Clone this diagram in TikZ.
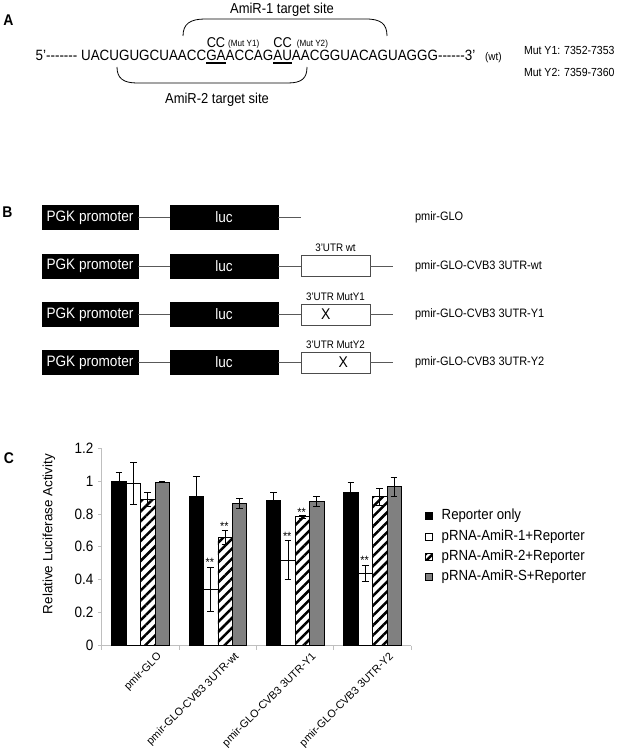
\documentclass[tikz,border=0pt]{standalone}
\usepackage{fontspec}
\setmainfont{Liberation Sans}[Ligatures=TeXOff]
\newfontfamily\tallfont{Liberation Sans}[Ligatures=TeXOff, FakeStretch=0.9]
\usetikzlibrary{patterns.meta}
\newcommand{\fsz}[1]{\tallfont\fontsize{#1}{#1}\selectfont}
\newcommand{\fsr}[1]{\fontsize{#1}{#1}\selectfont}
\begin{document}
\begin{tikzpicture}[x=1pt,y=-1pt,
  every node/.style={inner sep=0pt, outer sep=0pt},
  panel/.style={font=\fsz{15.5}\bfseries},
  seq/.style={anchor=base west, font=\fsz{14.9}},
  blk/.style={draw=black, fill=black, text=white, minimum height=24pt, font=\fsz{15.1}},
  utr/.style={draw=black!70, fill=white, minimum width=69pt, minimum height=21pt, line width=0.9pt},
  link/.style={draw=black!65, line width=0.9pt},
  lbl/.style={anchor=west, font=\fsz{12.2}},
  utrlbl/.style={anchor=south, font=\fsz{10.9}},
  axisline/.style={draw=black!25, line width=0.8pt},
  barblack/.style={draw=black, fill=black, line width=0.6pt},
  barwhite/.style={draw=black, fill=white, line width=0.6pt},
  barhatch/.style={draw=black, line width=0.6pt, fill=white, postaction={pattern={Lines[angle=45,distance=7pt,line width=2.5pt]}}},
  bargrey/.style={draw=black, line width=0.6pt, fill=black!50},
  errbar/.style={draw=black, line width=0.7pt},
  star/.style={anchor=south, font=\fsz{12}},
  leg/.style={anchor=west, font=\fsz{14.7}}
]
\useasboundingbox (0,0) rectangle (617,751);

% ---------------- Panel A ----------------
\node[panel] (pA) at (8.5,20) {A};
\node[anchor=center, font=\fsz{14.4}] (am1) at (282,10) {AmiR-1 target site};
\draw[line width=0.8pt] (183,36) .. controls (183,24) and (190,19) .. (205,19) -- (366,19) .. controls (381,19) and (387,24) .. (387,36);

\node[seq] (s1) at (35.7,61) {5’------- UACUGUGCUAACC};
\node[seq] (ga) at (s1.base east) {GA};
\node[seq] (s2) at (ga.base east) {ACCAG};
\node[seq] (au) at (s2.base east) {AU};
\node[seq] (s3) at (au.base east) {AACGGUACAGUAGGG------3’};
\draw[line width=1.5pt] ([yshift=-2.2pt]ga.base west) -- ([yshift=-2.2pt]ga.base east);
\draw[line width=1.5pt] ([yshift=-2.2pt]au.base west) -- ([yshift=-2.2pt]au.base east);

\node[anchor=base, font=\fsz{14.2}] (cc1) at ([yshift=13pt]ga.base) {CC};
\node[anchor=base west, font=\fsz{9}] (my1) at ([xshift=3pt,yshift=1.5pt]cc1.base east) {(Mut Y1)};
\node[anchor=base, font=\fsz{14.2}] (cc2) at ([yshift=13pt]au.base) {CC};
\node[anchor=base west, font=\fsz{9}] (my2) at ([xshift=5pt,yshift=1.5pt]cc2.base east) {(Mut Y2)};

\node[anchor=west, font=\fsz{11.1}] (wt) at (485,57.5) {(wt)};
\node[anchor=west, font=\fsz{11.7}] (mut1) at (524,50) {Mut Y1: 7352-7353};
\node[anchor=west, font=\fsz{11.7}] (mut2) at (524,72) {Mut Y2: 7359-7360};

\draw[line width=0.8pt] (117,67) .. controls (117,78) and (123,83) .. (137,83) -- (288,83) .. controls (302,83) and (307,78) .. (307,67);
\node[anchor=center, font=\fsz{14.4}] (am2) at (217,100) {AmiR-2 target site};

% ---------------- Panel B ----------------
\node[panel] (pB) at (7.5,212) {B};
\foreach \r/\yy in {1/217.5,2/266,3/314.5,4/362.5}{
  \node[blk, minimum width=96pt] (pgk\r) at (90,\yy) {PGK promoter};
  \node[blk, minimum width=108pt] (luc\r) at (224,\yy) {luc};
  \draw[link] (pgk\r) -- (luc\r);
}
\coordinate (end1) at (301,217.5);
\draw[link] (luc1.east) -- (end1);
\node[lbl] (n1) at (415,217.5) {pmir-GLO};

\node[utr] (u2) at (335.5,266) {};
\node[utr] (u3) at (335.5,314.5) {};
\node[utr] (u4) at (335.5,362.5) {};
\foreach \r in {2,3,4}{
  \draw[link] (luc\r) -- (u\r);
  \coordinate (e\r) at (393,0 |- u\r.east);
  \draw[link] (u\r.east) -- (e\r);
}
\node[utrlbl] (ul2) at ([yshift=3.5pt]u2.north) {3’UTR wt};
\node[utrlbl] (ul3) at ([yshift=3.5pt]u3.north) {3’UTR MutY1};
\node[utrlbl] (ul4) at ([yshift=3.5pt]u4.north) {3’UTR MutY2};
\node[font=\fsz{15.5}] (x3) at (325.7,314.5) {X};
\node[font=\fsz{15.5}] (x4) at (343.3,362.5) {X};
\node[lbl] (n2) at (415,266) {pmir-GLO-CVB3 3UTR-wt};
\node[lbl] (n3) at (415,314.5) {pmir-GLO-CVB3 3UTR-Y1};
\node[lbl] (n4) at (415,362.5) {pmir-GLO-CVB3 3UTR-Y2};

% ---------------- Panel C ----------------
\node[panel] (pC) at (9,458) {C};
\node[rotate=90, font=\fsr{13.4}] (ytitle) at (49,534) {Relative Luciferase Activity};

\begin{scope}[shift={(0,645.5)}, y=164.5pt]
  \draw[axisline] (101.7,0) -- (101.7,1.2);
  \foreach \v/\t [count=\i] in {0/0,0.2/0.2,0.4/0.4,0.6/0.6,0.8/0.8,1/1,1.2/1.2}{
    \draw[axisline] (101.7,\v) -- ++(-4pt,0pt);
    \node[anchor=east, font=\fsz{15}] (yt\i) at (93.3,\v) {\t};
  }
  \draw[axisline] (101.7,0) -- (411,0);
  \foreach \k in {0,...,4}{
    \draw[axisline] ({101.7+77.3*\k},0) -- ++(0pt,-4pt);
  }
  \foreach \c/\v/\lo/\hi in {0/1.00/0.95/1.05, 1/0.91/0.79/1.03, 2/0.883/0.833/0.932, 3/0.93/0.87/0.99}{
    \pgfmathsetmacro\L{111.7+77.3*\c}
    \path[barblack] (\L,0) rectangle ({\L+14.4},\v);
    \draw[errbar] ({\L+7.2},\lo) -- ({\L+7.2},\hi) ({\L+3.9},\hi) -- ({\L+10.5},\hi);
  }
  \foreach \c/\v/\lo/\hi in {0/0.984/0.857/1.111, 1/0.343/0.208/0.478, 2/0.52/0.40/0.64, 3/0.44/0.39/0.49}{
    \pgfmathsetmacro\L{111.7+77.3*\c+14.4}
    \path[barwhite] (\L,0) rectangle ({\L+14.4},\v);
    \draw[errbar] ({\L+7.2},\lo) -- ({\L+7.2},\hi) ({\L+3.9},\hi) -- ({\L+10.5},\hi) ({\L+3.9},\lo) -- ({\L+10.5},\lo);
  }
  \foreach \c/\v/\lo/\hi in {0/0.887/0.843/0.934, 1/0.655/0.612/0.70, 2/0.783/0.776/0.79, 3/0.904/0.85/0.958}{
    \pgfmathsetmacro\L{111.7+77.3*\c+28.8}
    \path[barhatch] (\L,0) rectangle ({\L+14.4},\v);
    \draw[errbar] ({\L+7.2},\lo) -- ({\L+7.2},\hi) ({\L+3.9},\hi) -- ({\L+10.5},\hi) ({\L+3.9},\lo) -- ({\L+10.5},\lo);
  }
  \foreach \c/\v/\lo/\hi in {0/0.995/0.99/1.0, 1/0.863/0.832/0.894, 2/0.875/0.843/0.907, 3/0.967/0.908/1.025}{
    \pgfmathsetmacro\L{111.7+77.3*\c+43.2}
    \path[bargrey] (\L,0) rectangle ({\L+14.4},\v);
    \draw[errbar] ({\L+7.2},\lo) -- ({\L+7.2},\hi) ({\L+3.9},\hi) -- ({\L+10.5},\hi) ({\L+3.9},\lo) -- ({\L+10.5},\lo);
  }
  \node[star] (st1) at ({111.7+77.3*1+14.4+6.5},0.478) {**};
  \node[star] (st2) at ({111.7+77.3*1+28.8+6.5},0.70) {**};
  \node[star] (st3) at ({111.7+77.3*2+14.4+6.5},0.64) {**};
  \node[star] (st4) at ({111.7+77.3*2+28.8+6.5},0.785) {**};
  \node[star] (st5) at ({111.7+77.3*3+14.4+6.5},0.49) {**};
\end{scope}

% category labels
\foreach \c/\t in {0/pmir-GLO,1/pmir-GLO-CVB3 3UTR-wt,2/pmir-GLO-CVB3 3UTR-Y1,3/pmir-GLO-CVB3 3UTR-Y2}{
  \node[rotate=45, anchor=north east, font=\fsr{10.8}] (cl\c) at ({140.35+77.3*\c+16},651.5) {\t};
}

% legend
\path[barblack] (425,512.5) rectangle (432,519.5);
\path[barwhite] (425,533.2) rectangle (432,540.2);
\path[draw=black, line width=0.6pt, fill=white] (425,553.2) rectangle (432,560.2);
\fill[black] (425,560.2) -- (432,553.2) -- (432,556.7) -- (428.5,560.2) -- cycle;
\fill[black] (425,553.2) -- (428.3,553.2) -- (425,556.5) -- cycle;
\path[bargrey] (425,573.2) rectangle (432,580.2);
\node[leg] (l1) at (441.7,516) {Reporter only};
\node[leg] (l2) at (441.7,536.7) {pRNA-AmiR-1+Reporter};
\node[leg] (l3) at (441.7,556.7) {pRNA-AmiR-2+Reporter};
\node[leg] (l4) at (441.7,576.7) {pRNA-AmiR-S+Reporter};
\end{tikzpicture}
\end{document}
